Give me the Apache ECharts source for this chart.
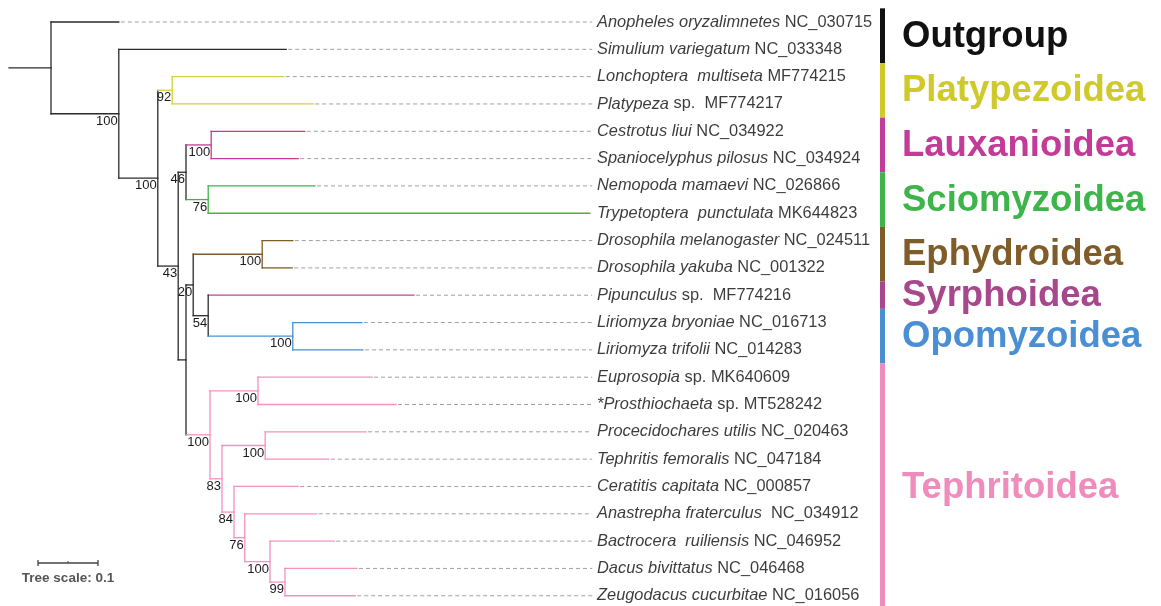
<!DOCTYPE html>
<html><head><meta charset="utf-8">
<script src="https://cdn.jsdelivr.net/npm/echarts@6/dist/echarts.min.js"></script>
<style>html,body{margin:0;padding:0;background:#fff}#c{width:1161px;height:606px}</style>
</head><body><div id="c"></div>
<script>
// ---------------- data ----------------
const taxa = ['Anopheles oryzalimnetes','Simulium variegatum','Lonchoptera  multiseta','Platypeza','Cestrotus liui',
  'Spaniocelyphus pilosus','Nemopoda mamaevi','Trypetoptera  punctulata','Drosophila melanogaster','Drosophila yakuba',
  'Pipunculus','Liriomyza bryoniae','Liriomyza trifolii','Euprosopia','*Prosthiochaeta','Procecidochares utilis',
  'Tephritis femoralis','Ceratitis capitata','Anastrepha fraterculus','Bactrocera  ruiliensis','Dacus bivittatus','Zeugodacus cucurbitae'];
const accessions = ['NC_030715','NC_033348','MF774215','sp.  MF774217','NC_034922','NC_034924','NC_026866','MK644823',
  'NC_024511','NC_001322','sp.  MF774216','NC_016713','NC_014283','sp. MK640609','sp. MT528242','NC_020463','NC_047184',
  'NC_000857',' NC_034912','NC_046952','NC_046468','NC_016056'];
// parent node of each tip and the tip's distance from the root
const tipParent = ['R','N1','P','P','L','L','S','S','E','E','N54','O','O','T1','T1','T2','T2','T84','T76','TB','T99','T99'];
const tipDepth = [0.113,0.392,0.388,0.437,0.423,0.412,0.440,0.898,0.403,0.402,0.605,0.518,0.520,0.535,0.575,0.525,0.463,0.412,0.443,0.472,0.510,0.507];
// internal nodes
const nodeIds     = ['R','N1','N2','P','N43','N46','L','S','NY','N20','E','N54','O','T','T1','T83','T2','T84','T76','TB','T99'];
const nodeParent  = [null,'R','N1','N2','N2','N43','N46','N46','N43','NY','N20','N20','N54','NY','T','T','T83','T83','T84','T76','TB'];
const nodeDepth   = [0,0.113,0.178,0.202,0.212,0.225,0.267,0.262,0.225,0.237,0.352,0.262,0.403,0.265,0.345,0.285,0.357,0.305,0.323,0.365,0.390];
const nodeSupport = ['','100','100','92','43','46','100','76','','20','100','54','100','100','100','83','100','84','76','100','99'];
const rootStem = 0.07;
// clades
const groupNames    = ['Outgroup','Platypezoidea','Lauxanioidea','Sciomyzoidea','Ephydroidea','Syrphoidea','Opomyzoidea','Tephritoidea'];
const groupFirstRow = [0,2,4,6,8,10,11,13];
const groupLastRow  = [1,3,5,7,9,10,12,21];
const scaleLength = 0.1;
const scaleText = 'Tree scale: 0.1';

// ---------------- styles ----------------
const groupColors = {
  'Outgroup':'#111111','Platypezoidea':'#cfc92c','Lauxanioidea':'#c23b98','Sciomyzoidea':'#3db54a',
  'Ephydroidea':'#7f5c28','Syrphoidea':'#a8488c','Opomyzoidea':'#4a8fd3','Tephritoidea':'#f08cbb'};
const branchColors = Object.assign({}, groupColors, {'Outgroup':'#2e2e2e','Syrphoidea':'#c0449a','Tephritoidea':'#f590c0','Platypezoidea':'#d6cf3c'});
const BLACK = '#2a2a2a';
const LABEL_DEPTH = 0.91, LEADER_END = 0.902;
const BAR_X = 880, BAR_W = 5, GROUP_LABEL_X = 902;

// ---------------- build tree geometry ----------------
const idx = {}; nodeIds.forEach((id,i)=>idx[id]=i);
const tipGroup = taxa.map((_,r)=>{ for (let g=0; g<groupNames.length; g++) if (r>=groupFirstRow[g] && r<=groupLastRow[g]) return groupNames[g]; return null; });
const children = nodeIds.map(()=>[]);
tipParent.forEach((p,r)=>children[idx[p]].push({tip:true,i:r}));
nodeParent.forEach((p,i)=>{ if (p) children[idx[p]].push({tip:false,i}); });
const nodeY = [], nodeGrp = [], nodeYmin = [], nodeYmax = [];
function calc(i){
  const ys = []; const gs = new Set();
  children[i].forEach(c=>{
    if (c.tip){ ys.push(c.i); gs.add(tipGroup[c.i]); }
    else { calc(c.i); ys.push(nodeY[c.i]); gs.add(nodeGrp[c.i]); }
  });
  nodeYmin[i] = Math.min(...ys); nodeYmax[i] = Math.max(...ys);
  nodeY[i] = (nodeYmin[i] + nodeYmax[i]) / 2;
  nodeGrp[i] = (gs.size === 1) ? [...gs][0] : null;
}
calc(idx['R']);
function colorOf(g){ return (g && g !== 'Outgroup') ? branchColors[g] : BLACK; }

const segs = [], segColor = [];
tipDepth.forEach((d,r)=>{
  const p = idx[tipParent[r]];
  segs.push([nodeDepth[p], r, d, r]); segColor.push(colorOf(tipGroup[r]));
});
nodeIds.forEach((id,i)=>{
  const pd = nodeParent[i] ? nodeDepth[idx[nodeParent[i]]] : -rootStem;
  segs.push([pd, nodeY[i], nodeDepth[i], nodeY[i]]); segColor.push(colorOf(nodeGrp[i]));
  segs.push([nodeDepth[i], nodeYmin[i], nodeDepth[i], nodeYmax[i]]); segColor.push(colorOf(nodeGrp[i]));
});
const leaders = [];
tipDepth.forEach((d,r)=>{ if (d < LEADER_END - 0.004) leaders.push([d, r, LEADER_END, r]); });
const supportData = nodeIds.map((id,i)=>[nodeDepth[i], nodeY[i], nodeSupport[i]]).filter(d=>d[2] !== '');
const labelData = taxa.map((t,r)=>[LABEL_DEPTH, r]);
const groupData = groupNames.map((g,k)=>[groupFirstRow[k], groupLastRow[k]]);

// ---------------- chart ----------------
const chart = echarts.init(document.getElementById('c'));
const TEXT_FONT = '"Liberation Sans", Arial, sans-serif';
chart.setOption({
  animation:false,
  backgroundColor:'#ffffff',
  grid:{left:0,right:0,top:0,bottom:0},
  xAxis:{type:'value',min:-0.085,max:1.85,show:false},
  yAxis:{type:'value',inverse:true,min:-0.805,max:21.375,show:false},
  series:[
    { type:'custom', name:'leaders', data:leaders, silent:true,
      renderItem(params, api){
        const a = api.coord([api.value(0), api.value(1)]), b = api.coord([api.value(2), api.value(3)]);
        return {type:'line', shape:{x1:a[0]+2,y1:a[1],x2:b[0],y2:b[1]}, style:{stroke:'#a0a0a0', lineWidth:1, lineDash:[4,3]}};
      }},
    { type:'custom', name:'branches', data:segs, silent:true,
      renderItem(params, api){
        const a = api.coord([api.value(0), api.value(1)]), b = api.coord([api.value(2), api.value(3)]);
        return {type:'line', shape:{x1:a[0],y1:a[1],x2:b[0],y2:b[1]}, style:{stroke:segColor[params.dataIndex], lineWidth:1.3, lineCap:'square'}};
      }},
    { type:'custom', name:'support', data:supportData, silent:true,
      renderItem(params, api){
        const a = api.coord([api.value(0), api.value(1)]);
        return {type:'text', x:a[0]-1, y:a[1]+1, style:{text:supportData[params.dataIndex][2], fill:'#1a1a1a', font:'13px '+TEXT_FONT, align:'right', verticalAlign:'top'}};
      }},
    { type:'scatter', name:'taxa', data:labelData, symbolSize:0, silent:true,
      label:{show:true, position:'right', distance:0, color:'#0a0a0a', fontSize:16.4, fontFamily:TEXT_FONT,
        formatter:p=>'{i|'+taxa[p.dataIndex]+'} '+accessions[p.dataIndex],
        rich:{i:{fontStyle:'italic', fontSize:16.4, fontFamily:TEXT_FONT, color:'#0a0a0a'}}}},
    { type:'custom', name:'groups', data:groupData, silent:true,
      renderItem(params, api){
        const k = params.dataIndex;
        const top = api.coord([0, api.value(0)-0.5])[1], bot = api.coord([0, api.value(1)+0.5])[1];
        const col = groupColors[groupNames[k]];
        return {type:'group', children:[
          {type:'rect', shape:{x:BAR_X, y:top, width:BAR_W, height:bot-top}, style:{fill:col}},
          {type:'text', x:GROUP_LABEL_X, y:(top+bot)/2+1, style:{text:groupNames[k], fill:col, font:'bold 36.5px '+TEXT_FONT, align:'left', verticalAlign:'middle'}}
        ]};
      }},
    { type:'custom', name:'scale', data:[[0, 0]], silent:true,
      renderItem(params, api){
        const w = api.coord([scaleLength,0])[0] - api.coord([0,0])[0];
        const x0 = 38, y0 = 563, c = '#444';
        return {type:'group', children:[
          {type:'line', shape:{x1:x0,y1:y0,x2:x0+w,y2:y0}, style:{stroke:c,lineWidth:1.3}},
          {type:'line', shape:{x1:x0,y1:y0-3,x2:x0,y2:y0+3}, style:{stroke:c,lineWidth:1.3}},
          {type:'line', shape:{x1:x0+w,y1:y0-3,x2:x0+w,y2:y0+3}, style:{stroke:c,lineWidth:1.3}},
          {type:'line', shape:{x1:x0+w/2,y1:y0-2,x2:x0+w/2,y2:y0}, style:{stroke:c,lineWidth:1}},
          {type:'text', x:x0+w/2, y:y0+15, style:{text:scaleText, fill:'#555', font:'bold 13.5px '+TEXT_FONT, align:'center', verticalAlign:'middle'}}
        ]};
      }}
  ]
});
</script></body></html>
